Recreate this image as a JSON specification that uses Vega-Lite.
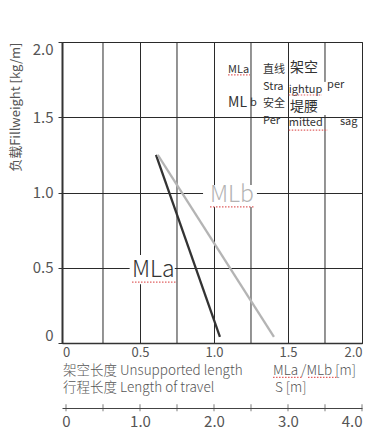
{
  "$schema": "https://vega.github.io/schema/vega-lite/v6.json",
  "width": 300,
  "height": 301,
  "autosize": {"type": "none"},
  "padding": {"left": 62, "top": 42, "right": 12, "bottom": 90},
  "background": "white",
  "datasets": {
    "lines": [
      {"series": "MLa", "x": 0.608, "y": 1.25},
      {"series": "MLa", "x": 1.04, "y": 0.04},
      {"series": "MLb", "x": 0.62, "y": 1.25},
      {"series": "MLb", "x": 1.405, "y": 0.04}
    ],
    "minorGrid": [
      {"x": 0.25, "y": 0, "y2": 2},
      {"x": 0.75, "y": 0, "y2": 2},
      {"x": 1.25, "y": 0, "y2": 2},
      {"x": 1.75, "y": 0, "y2": 2}
    ],
    "masks": [
      {"x": 0.926, "x2": 1.29, "y": 0.904, "y2": 1.05},
      {"x": 0.43, "x2": 0.735, "y": 0.39, "y2": 0.585},
      {"x": 1.72, "x2": 1.77, "y": 1.515, "y2": 1.735}
    ],
    "big": [
      {"series": "MLa", "x": 0.446, "y": 0.44},
      {"series": "MLb", "x": 0.973, "y": 0.937}
    ],
    "noteSmall": [
      {"t": "MLa", "x": 1.095, "y": 1.814},
      {"t": "直线", "x": 1.331, "y": 1.814},
      {"t": "Stra", "x": 1.331, "y": 1.70},
      {"t": "ightup", "x": 1.505, "y": 1.681},
      {"t": "per", "x": 1.764, "y": 1.714},
      {"t": "b", "x": 1.243, "y": 1.595},
      {"t": "安全", "x": 1.331, "y": 1.588},
      {"t": "Per", "x": 1.331, "y": 1.475},
      {"t": "mitted", "x": 1.505, "y": 1.462},
      {"t": "sag", "x": 1.851, "y": 1.468}
    ],
    "noteLarge": [
      {"t": "架空", "x": 1.514, "y": 1.827},
      {"t": "堤腰", "x": 1.514, "y": 1.568},
      {"t": "ML", "x": 1.095, "y": 1.595}
    ],
    "axisTitles": [
      {"t": "架空长度 Unsupported length", "x": -0.02, "y": -0.183},
      {"t": "MLa /MLb [m]", "x": 1.399, "y": -0.183},
      {"t": "行程长度 Length of travel", "x": -0.02, "y": -0.302},
      {"t": "S [m]", "x": 1.412, "y": -0.302}
    ],
    "underlines": [
      {"x": 0.446, "x2": 0.75, "y": 0.405},
      {"x": 0.973, "x2": 1.277, "y": 0.904},
      {"x": 1.095, "x2": 1.243, "y": 1.781},
      {"x": 1.505, "x2": 1.73, "y": 1.648},
      {"x": 1.505, "x2": 1.77, "y": 1.415},
      {"x": 1.399, "x2": 1.601, "y": -0.229},
      {"x": 1.635, "x2": 1.831, "y": -0.229}
    ],
    "travel": [
      {"S": 0}, {"S": 0.5}, {"S": 1}, {"S": 1.5}, {"S": 2},
      {"S": 2.5}, {"S": 3}, {"S": 3.5}, {"S": 4}
    ]
  },
  "layer": [
    {
      "encoding": {
        "x": {
          "field": "x",
          "type": "quantitative",
          "scale": {"domain": [-0.027, 2], "nice": false, "zero": false},
          "axis": {
            "values": [0, 0.5, 1, 1.5, 2],
            "labelExpr": "datum.value == 0 ? '0' : format(datum.value, '.1f')",
            "grid": true,
            "gridColor": "#2a2a2a",
            "gridWidth": 1,
            "gridOpacity": {"condition": {"test": "datum.value == 0", "value": 0}, "value": 1},
            "ticks": false,
            "domain": true,
            "domainColor": "#333333",
            "domainWidth": 1.5,
            "labelFontSize": 13,
            "labelColor": "#555555",
            "labelPadding": 3,
            "labelFlush": true,
            "title": null
          }
        },
        "y": {
          "field": "y",
          "type": "quantitative",
          "scale": {"domain": [0, 2], "nice": false},
          "axis": {
            "values": [0, 0.25, 0.5, 0.75, 1, 1.25, 1.5, 1.75, 2],
            "labelExpr": "datum.value % 0.5 == 0 ? (datum.value == 0 ? '0' : format(datum.value, '.1f')) : ''",
            "grid": true,
            "gridColor": "#2a2a2a",
            "gridWidth": 1,
            "ticks": true,
            "tickSize": 4,
            "tickColor": "#333333",
            "tickOpacity": {"condition": {"test": "datum.value % 0.5 != 0", "value": 0}, "value": 1},
            "domain": true,
            "domainColor": "#333333",
            "domainWidth": 2,
            "labelFontSize": 15,
            "labelColor": "#555555",
            "labelPadding": 5,
            "labelFlush": true,
            "title": "负载Fillweight [kg/m]",
            "titleFontSize": 13,
            "titleFontWeight": "normal",
            "titleColor": "#555555",
            "titleAnchor": "end",
            "titleAngle": -90,
            "titleAlign": "right",
            "titleBaseline": "middle",
            "titleX": -47,
            "titleY": 0
          }
        }
      },
      "layer": [
        {
          "data": {"name": "minorGrid"},
          "mark": {"type": "rule", "color": "#2a2a2a", "strokeWidth": 1},
          "encoding": {"y2": {"field": "y2"}}
        },
        {
          "data": {"name": "masks"},
          "mark": {"type": "rect", "color": "white"},
          "encoding": {
            "x2": {"field": "x2"},
            "y2": {"field": "y2"}
          }
        },
        {
          "data": {"name": "lines"},
          "mark": {"type": "line", "strokeWidth": 2.3},
          "encoding": {
            "color": {
              "field": "series",
              "type": "nominal",
              "scale": {"domain": ["MLa", "MLb"], "range": ["#333333", "#b4b4b4"]},
              "legend": null
            }
          }
        },
        {
          "data": {"name": "big"},
          "mark": {"type": "text", "align": "left", "baseline": "alphabetic", "fontSize": 23, "fontWeight": 300},
          "encoding": {
            "text": {"field": "series"},
            "color": {"field": "series", "type": "nominal", "legend": null}
          }
        },
        {
          "data": {"name": "noteSmall"},
          "mark": {"type": "text", "align": "left", "baseline": "middle", "fontSize": 11, "color": "#333333"},
          "encoding": {"text": {"field": "t"}}
        },
        {
          "data": {"name": "noteLarge"},
          "mark": {"type": "text", "align": "left", "baseline": "middle", "fontSize": 14, "color": "#333333"},
          "encoding": {"text": {"field": "t"}}
        },
        {
          "data": {"name": "axisTitles"},
          "mark": {"type": "text", "align": "left", "baseline": "middle", "fontSize": 13.5, "color": "#555555", "fontWeight": 300},
          "encoding": {"text": {"field": "t"}}
        },
        {
          "data": {"name": "underlines"},
          "mark": {"type": "rule", "color": "#e06060", "strokeWidth": 1.2, "strokeDash": [1.5, 1.5]},
          "encoding": {"x2": {"field": "x2"}}
        }
      ]
    },
    {
      "data": {"name": "travel"},
      "mark": {"type": "tick", "orient": "vertical", "size": 7, "thickness": 1, "color": "#444444"},
      "encoding": {
        "x": {
          "field": "S",
          "type": "quantitative",
          "scale": {"domain": [-0.054, 4], "nice": false, "zero": false},
          "axis": {
            "orient": "bottom",
            "offset": 65,
            "values": [0, 1, 2, 3, 4],
            "labelExpr": "datum.value == 0 ? '0' : format(datum.value, '.1f')",
            "ticks": false,
            "grid": false,
            "domain": true,
            "domainColor": "#444444",
            "domainWidth": 1,
            "labelFontSize": 15,
            "labelColor": "#555555",
            "labelPadding": 6,
            "labelFlush": true,
            "title": null
          }
        },
        "y": {"datum": -0.43, "type": "quantitative", "scale": {"domain": [0, 2], "nice": false}}
      }
    }
  ],
  "resolve": {"scale": {"x": "independent"}, "axis": {"x": "independent"}},
  "config": {
    "view": {"stroke": "#333333", "strokeWidth": 1},
    "font": "Noto Sans CJK SC",
    "axis": {"labelFont": "Noto Sans CJK SC", "titleFont": "Noto Sans CJK SC"},
    "text": {"font": "Noto Sans CJK SC"}
  }
}
